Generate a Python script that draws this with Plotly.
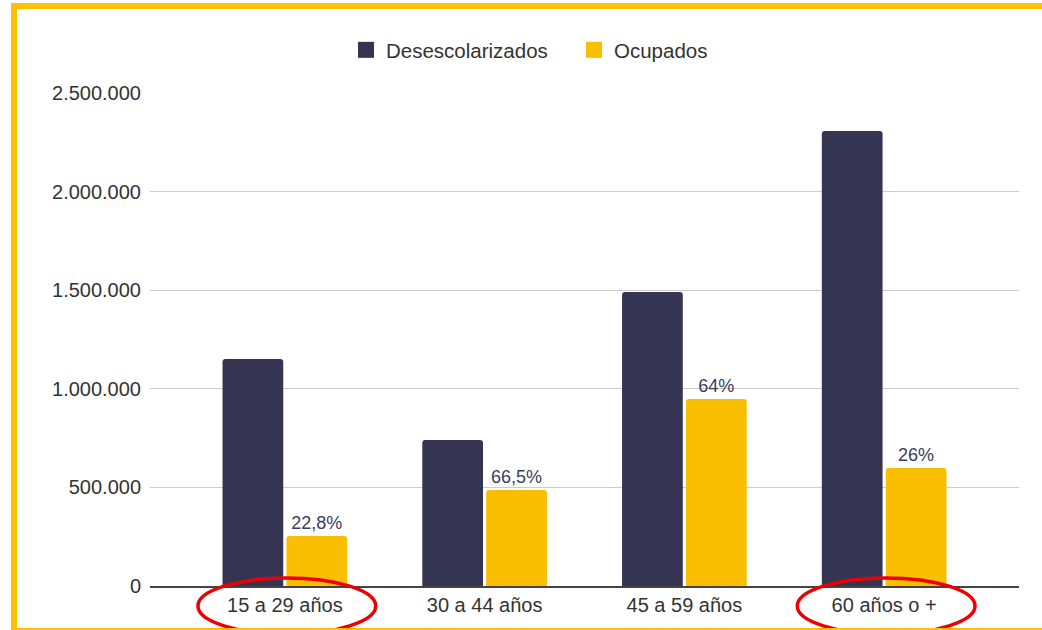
import plotly.graph_objects as go

# chart data
age_groups = ["15 a 29 años", "30 a 44 años", "45 a 59 años", "60 años o +"]
desescolarizados = [1151000, 740000, 1491000, 2307000]
ocupados = [253000, 487000, 948000, 598000]
pct_labels = ["22,8%", "66,5%", "64%", "26%"]
y_ticks = [0, 500000, 1000000, 1500000, 2000000, 2500000]

NAVY = "#353453"
YELLOW = "#F9BE00"
FONT = "Liberation Sans"

W, H = 1042, 630
M_L, M_R, M_T, M_B = 150, 23, 93, 44


def px_x(px):
    return (px - M_L) / (W - M_L - M_R)


def px_y(py):
    return (H - M_B - py) / (H - M_T - M_B)


fig = go.Figure()
fig.add_trace(go.Bar(
    x=age_groups, y=desescolarizados, name="Desescolarizados",
    marker=dict(color=NAVY, line=dict(width=0)), showlegend=False,
))
fig.add_trace(go.Bar(
    x=age_groups, y=ocupados, name="Ocupados",
    marker=dict(color=YELLOW, line=dict(width=0)), showlegend=False,
    text=pct_labels, textposition="outside", cliponaxis=False,
    textfont=dict(color="#3b3b5e", size=18, family=FONT),
))

# legend entries with bigger square swatches
for name, color in (("Desescolarizados", NAVY), ("Ocupados", YELLOW)):
    fig.add_trace(go.Scatter(
        x=[None], y=[None], mode="markers", name=name,
        marker=dict(symbol="square", size=18, color=color),
    ))

# red ellipses around first and last category labels
shapes = []
for idx in (0, len(age_groups) - 1):
    shapes.append(dict(
        type="circle", xref="x", yref="paper",
        x0=idx - 0.435, x1=idx + 0.455,
        y0=px_y(634), y1=px_y(578),
        line=dict(color="#EE0000", width=3.5),
    ))

# yellow frame (top, left, bottom)
shapes.append(dict(
    type="rect", xref="paper", yref="paper",
    x0=px_x(14), x1=px_x(1070), y0=px_y(631), y1=px_y(6),
    line=dict(color="#FFC000", width=6),
))

fig.update_layout(
    width=W, height=H,
    margin=dict(l=M_L, r=M_R, t=M_T, b=M_B),
    paper_bgcolor="white", plot_bgcolor="white",
    font=dict(family=FONT, size=20, color="#333333"),
    separators=",.",
    barmode="group", bargap=0.36, bargroupgap=0.05,
    barcornerradius=3,
    showlegend=True,
    legend=dict(
        orientation="h", x=px_x(346), xanchor="left",
        y=px_y(50), yanchor="middle",
        font=dict(size=20.5, color="#333333"),
        itemwidth=30, entrywidth=183,
    ),
    xaxis=dict(
        range=[-0.675, len(age_groups) - 1 + 0.675],
        showgrid=False, showline=True, linecolor="#444444", linewidth=2,
        ticks="", tickfont=dict(size=20, color="#333333"),
    ),
    yaxis=dict(
        range=[0, 2500000], tickvals=y_ticks, tickformat=",d",
        showgrid=True, gridcolor="#cccccc", gridwidth=1,
        zeroline=False, ticks="", ticklabelstandoff=8,
        tickfont=dict(size=20, color="#333333"),
    ),
    shapes=shapes,
)

# drop the browser's default body margin so the figure fills the window
fig.write_html(
    "out.html",
    config={"displayModeBar": False},
    post_script="document.body.style.margin = '0';",
)
